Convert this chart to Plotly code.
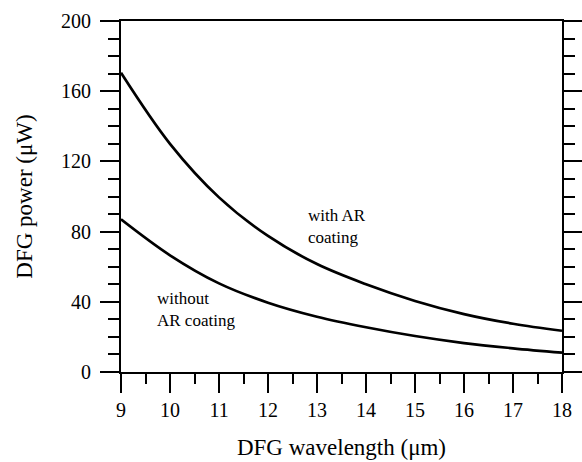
import plotly.graph_objects as go

wavelength = [9, 10, 11, 12, 13, 14, 15, 16, 17, 18]
power_with_ar = [170.5, 130, 99.5, 77.5, 61.5, 50, 40.5, 33, 27.5, 23.5]
power_without_ar = [87, 66.5, 50.5, 39.5, 31.5, 25.5, 20.5, 16.5, 13.5, 11]

x_ticks = list(range(9, 19))
y_ticks = [0, 40, 80, 120, 160, 200]

FONT = "Liberation Serif"

fig = go.Figure()
fig.add_trace(go.Scatter(x=wavelength, y=power_with_ar, mode="lines",
                         line=dict(color="black", width=2.7, shape="spline", smoothing=1.0),
                         showlegend=False))
fig.add_trace(go.Scatter(x=wavelength, y=power_without_ar, mode="lines",
                         line=dict(color="black", width=2.7, shape="spline", smoothing=1.0),
                         showlegend=False))

fig.add_annotation(x=12.78, y=95.5, xref="x", yref="y", text="with AR<br>coating",
                   showarrow=False, xanchor="left", yanchor="top", align="left",
                   font=dict(family=FONT, size=17, color="black"))
fig.add_annotation(x=9.7, y=48.5, xref="x", yref="y", text="without<br>AR coating",
                   showarrow=False, xanchor="left", yanchor="top", align="left",
                   font=dict(family=FONT, size=17, color="black"))

fig.update_layout(
    width=582, height=462,
    margin=dict(l=121, r=20, t=21, b=90),
    paper_bgcolor="white", plot_bgcolor="white",
    font=dict(family=FONT, color="black"),
    xaxis=dict(range=[9, 18], tickvals=x_ticks, ticktext=[str(v) for v in x_ticks],
               showgrid=False, zeroline=False, automargin=False,
               showline=True, linecolor="black", linewidth=2, mirror=True,
               ticks="outside", ticklen=19, tickwidth=2, tickcolor="black",
               minor=dict(dtick=0.5, tick0=9, ticks="outside", ticklen=10, tickwidth=2, tickcolor="black"),
               tickfont=dict(family=FONT, size=20, color="black"),
               title=dict(text="DFG wavelength (μm)", font=dict(family=FONT, size=23, color="black"), standoff=19)),
    yaxis=dict(range=[0, 200], tickvals=y_ticks, ticktext=[str(v) for v in y_ticks],
               showgrid=False, zeroline=False, automargin=False,
               showline=True, linecolor="black", linewidth=2, mirror="ticks",
               ticks="outside", ticklen=19, tickwidth=2, tickcolor="black",
               ticklabelstandoff=5,
               minor=dict(dtick=10, tick0=0, ticks="outside", ticklen=11, tickwidth=2, tickcolor="black"),
               tickfont=dict(family=FONT, size=20, color="black"),
               title=dict(text="DFG power (μW)", font=dict(family=FONT, size=23, color="black"), standoff=22)),
)

fig.write_html("out.html", config={"displayModeBar": False},
               post_script="document.body.style.margin='0';")
